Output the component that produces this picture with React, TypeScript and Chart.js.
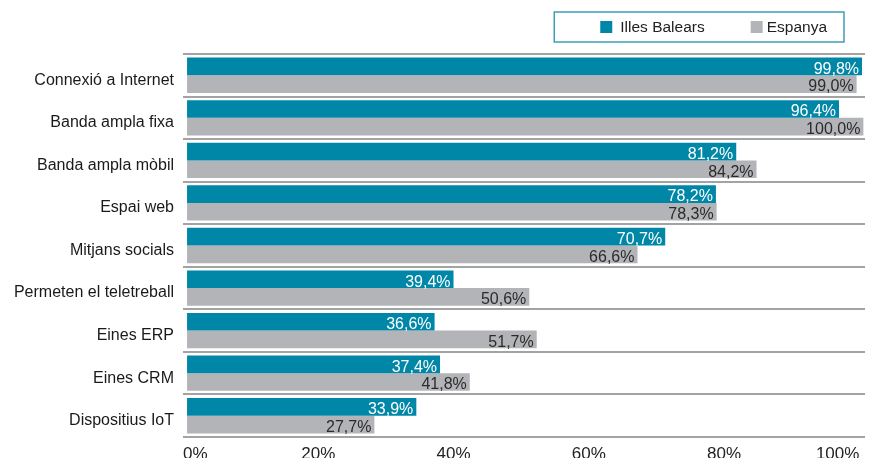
import React, { useEffect, useRef } from 'react';
import { Chart, registerables } from 'chart.js';

Chart.register(...registerables);

const categories = [
  'Connexió a Internet',
  'Banda ampla fixa',
  'Banda ampla mòbil',
  'Espai web',
  'Mitjans socials',
  'Permeten el teletreball',
  'Eines ERP',
  'Eines CRM',
  'Dispositius IoT',
];
const seriesNames = ['Illes Balears', 'Espanya'];
const illesBalears = [99.8, 96.4, 81.2, 78.2, 70.7, 39.4, 36.6, 37.4, 33.9];
const espanya = [99.0, 100.0, 84.2, 78.3, 66.6, 50.6, 51.7, 41.8, 27.7];
const xTicks = [0, 20, 40, 60, 80, 100];

const FONT = '"Liberation Sans", Arial, sans-serif';
const TEAL = '#0087a7';
const GREY = '#b3b4b8';
const LABEL_COLORS = ['#ffffff', '#2b2b2b'];

const fmt = (v: number) => v.toFixed(1).replace('.', ',') + '%';

const valueLabels = {
  id: 'valueLabels',
  afterDatasetsDraw(chart: any) {
    const ctx = chart.ctx;
    ctx.save();
    ctx.font = `16px ${FONT}`;
    ctx.textAlign = 'right';
    ctx.textBaseline = 'alphabetic';
    chart.data.datasets.forEach((ds: any, di: number) => {
      const meta = chart.getDatasetMeta(di);
      ctx.fillStyle = LABEL_COLORS[di];
      meta.data.forEach((el: any, i: number) => {
        const { x, y, height } = el.getProps(['x', 'y', 'height'], true);
        ctx.fillText(fmt(ds.data[i]), x - 3, y + height / 2 - 1.5);
      });
    });
    ctx.restore();
  },
};

const boxedLegend = {
  id: 'boxedLegend',
  afterDraw(chart: any) {
    const ctx = chart.ctx;
    ctx.save();
    ctx.font = `15.5px ${FONT}`;
    const ds = chart.data.datasets;
    const w1 = ctx.measureText(ds[0].label).width;
    const w2 = ctx.measureText(ds[1].label).width;
    const R = chart.width - 29;
    const t2 = R - 17 - w2;
    const s2 = t2 - 16;
    const t1 = s2 - 46 - w1;
    const s1 = t1 - 20;
    const L = s1 - 46;
    const top = 12;
    const bottom = 42;
    ctx.strokeStyle = '#3d9fb7';
    ctx.lineWidth = 1.5;
    ctx.strokeRect(L, top, R - L, bottom - top);
    ctx.fillStyle = ds[0].backgroundColor;
    ctx.fillRect(s1, 21, 12, 12);
    ctx.fillStyle = ds[1].backgroundColor;
    ctx.fillRect(s2, 21, 12, 12);
    ctx.fillStyle = '#222';
    ctx.textBaseline = 'middle';
    ctx.textAlign = 'left';
    ctx.fillText(ds[0].label, t1, 28);
    ctx.fillText(ds[1].label, t2, 28);
    ctx.restore();
  },
};

export default function App() {
  const ref = useRef<HTMLCanvasElement | null>(null);

  useEffect(() => {
    if (!ref.current) return;
    const chart = new Chart(ref.current, {
      type: 'bar',
      data: {
        labels: categories,
        datasets: [
          {
            label: seriesNames[0],
            data: illesBalears,
            backgroundColor: TEAL,
            categoryPercentage: 0.83,
            barPercentage: 1,
          },
          {
            label: seriesNames[1],
            data: espanya,
            backgroundColor: GREY,
            categoryPercentage: 0.83,
            barPercentage: 1,
          },
        ],
      },
      options: {
        indexAxis: 'y',
        responsive: true,
        maintainAspectRatio: false,
        animation: false,
        layout: { padding: { top: 54, right: 8, left: 0, bottom: 0 } },
        plugins: {
          legend: { display: false },
          tooltip: { enabled: false },
        },
        scales: {
          x: {
            type: 'linear',
            min: -0.6,
            max: 100.24,
            afterBuildTicks: (s: any) => {
              s.ticks = xTicks.map((value) => ({ value }));
            },
            afterFit: (s: any) => {
              s.height = 21;
              s.paddingLeft = 0;
              s.paddingRight = 0;
            },
            grid: { display: false, drawTicks: false },
            border: { display: false },
            ticks: {
              padding: 7,
              align: 'inner',
              labelOffset: -4,
              color: '#222',
              font: { size: 17, family: FONT },
              callback: (v: any) => v + '%',
            },
          },
          y: {
            afterFit: (s: any) => {
              s.width = 183;
              s.paddingTop = 0;
              s.paddingBottom = 0;
            },
            grid: { color: '#a3a3a3', lineWidth: 2, drawTicks: false, offset: true },
            border: { display: false },
            ticks: {
              padding: 9,
              labelOffset: 5,
              color: '#1a1a1a',
              font: { size: 16, family: FONT },
            },
          },
        },
      },
      plugins: [valueLabels, boxedLegend],
    } as any);
    return () => chart.destroy();
  }, []);

  return (
    <div style={{ position: 'fixed', left: 0, top: 0, width: 873, height: 458, background: '#fff' }}>
      <canvas ref={ref} />
    </div>
  );
}
